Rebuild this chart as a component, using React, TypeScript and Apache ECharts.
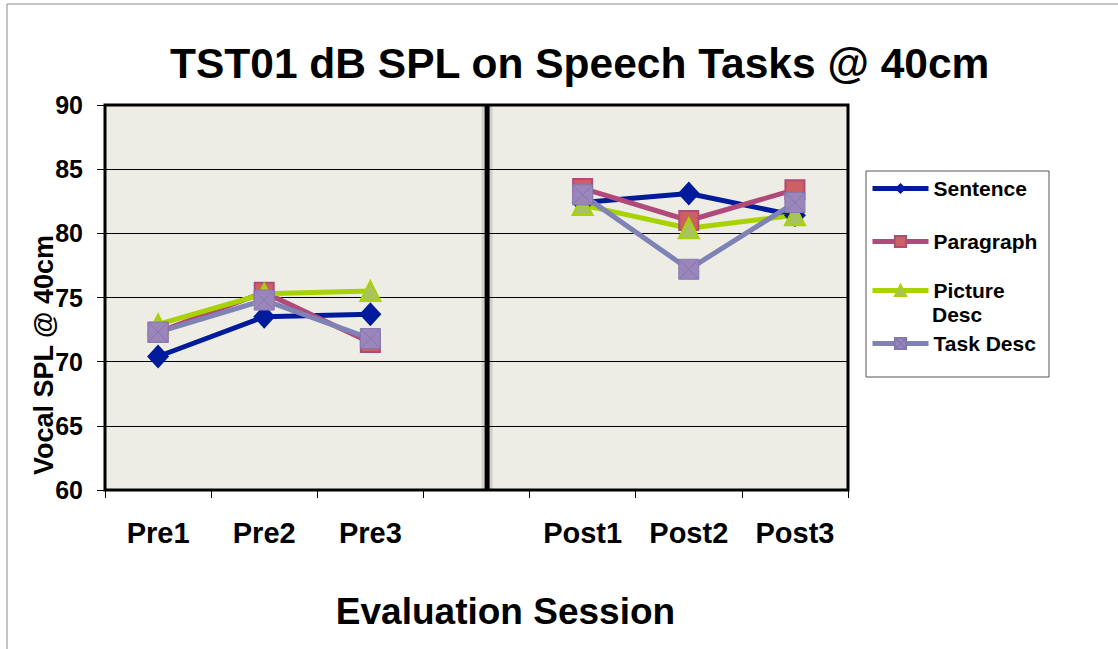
import React, { useEffect, useRef } from "react";
import * as echarts from "echarts";

const categories = ["Pre1", "Pre2", "Pre3", "", "Post1", "Post2", "Post3"];
const sentence = [70.4, 73.5, 73.7, null, 82.4, 83.1, 81.4];
const paragraph = [72.3, 75.4, 71.5, null, 83.5, 81.0, 83.4];
const picture = [72.9, 75.3, 75.5, null, 82.2, 80.4, 81.4];
const taskDesc = [72.3, 74.8, 71.8, null, 83.0, 77.2, 82.4];
const dividerX = [3.6, 3.6];
const dividerY = [60, 90];
const seriesNames = ["Sentence", "Paragraph", "Picture Desc", "Task Desc"];

const FONT = "'Liberation Sans', Arial, Helvetica, sans-serif";
const crossSquare = "path://M0,0H10V10H0Z M0,0L10,10 M10,0L0,10";

export default function App() {
  const ref = useRef<HTMLDivElement>(null);
  useEffect(() => {
    if (!ref.current) return;
    const chart = echarts.init(ref.current, null, { renderer: "svg" });
    const legendCommon = {
      orient: "vertical",
      left: 870,
      itemWidth: 56,
      itemHeight: 14,
      itemGap: 0,
      padding: 0,
      lineStyle: { width: 5 },
      textStyle: { fontFamily: FONT, fontWeight: "bold", fontSize: 21, color: "#000" },
    };
    chart.setOption({
      animation: false,
      backgroundColor: "#fff",
      title: {
        text: "TST01 dB SPL on Speech Tasks @ 40cm",
        left: 170,
        top: 42,
        padding: 0,
        textStyle: { fontFamily: FONT, fontWeight: "bold", fontSize: 42.5, color: "#000" },
      },
      grid: {
        left: 105,
        right: 270,
        top: 105,
        bottom: 159,
        show: true,
        backgroundColor: "#EEEDE5",
        borderColor: "#000",
        borderWidth: 3,
      },
      legend: [
        { ...legendCommon, top: 178, data: [seriesNames[0]] },
        { ...legendCommon, top: 231, data: [seriesNames[1]] },
        { ...legendCommon, top: 280, data: [seriesNames[2]], formatter: () => "Picture" },
        { ...legendCommon, top: 333, data: [seriesNames[3]] },
      ],
      xAxis: [
        {
          type: "category",
          data: categories,
          boundaryGap: true,
          axisLine: { show: false },
          axisTick: { show: true, length: 8, lineStyle: { color: "#000", width: 1 } },
          axisLabel: { margin: 28, fontFamily: FONT, fontWeight: "bold", fontSize: 29, color: "#000", interval: 0 },
          splitLine: { show: false },
          name: "Evaluation Session",
          nameLocation: "middle",
          nameGap: 103,
          nameTextStyle: { fontFamily: FONT, fontWeight: "bold", fontSize: 37, color: "#000", padding: [0, 0, 0, 58] },
        },
        { type: "value", min: 0, max: 7, show: false },
      ],
      yAxis: {
        type: "value",
        min: 60,
        max: 90,
        interval: 5,
        axisLine: { show: false },
        axisTick: { show: true, length: 8, lineStyle: { color: "#000", width: 1 } },
        axisLabel: { margin: 22, fontFamily: FONT, fontWeight: "bold", fontSize: 25, color: "#000" },
        splitLine: { show: true, lineStyle: { color: "#000", width: 1 } },
      },
      graphic: [
        {
          type: "rect",
          shape: { x: 7, y: 4, width: 1200, height: 700 },
          style: { fill: "none", stroke: "#888", lineWidth: 1 },
          silent: true,
        },
        {
          type: "rect",
          shape: { x: 866, y: 171, width: 183, height: 206 },
          style: { fill: "none", stroke: "#555", lineWidth: 1 },
          silent: true,
        },
        {
          type: "text",
          x: 932,
          y: 314,
          style: {
            text: "Desc",
            fontFamily: FONT,
            fontWeight: "bold",
            fontSize: 21,
            fill: "#000",
            textAlign: "left",
            textVerticalAlign: "middle",
          },
        },
        {
          type: "text",
          x: 44,
          y: 355,
          rotation: Math.PI / 2,
          style: {
            text: "Vocal SPL @ 40cm",
            fontFamily: FONT,
            fontWeight: "bold",
            fontSize: 27,
            fill: "#000",
            textAlign: "center",
            textVerticalAlign: "middle",
          },
        },
      ],
      series: [
        {
          name: "divider-shade",
          type: "line",
          xAxisIndex: 1,
          data: dividerX.map((x, i) => [x, dividerY[i]]),
          symbol: "none",
          silent: true,
          z: 1,
          lineStyle: { color: "rgba(0,0,0,0.12)", width: 11 },
        },
        {
          name: "divider",
          type: "line",
          xAxisIndex: 1,
          data: dividerX.map((x, i) => [x, dividerY[i]]),
          symbol: "none",
          silent: true,
          z: 1,
          lineStyle: { color: "#000", width: 5 },
        },
        {
          name: seriesNames[0],
          type: "line",
          data: sentence,
          symbol: "diamond",
          symbolSize: [22, 24],
          lineStyle: { color: "#001A9C", width: 5 },
          itemStyle: { color: "#001A9C" },
        },
        {
          name: seriesNames[1],
          type: "line",
          data: paragraph,
          symbol: "rect",
          symbolSize: 19,
          lineStyle: { color: "#B04A7A", width: 5 },
          itemStyle: { color: "#CD6060", borderColor: "#B04A7A", borderWidth: 2 },
        },
        {
          name: seriesNames[2],
          type: "line",
          data: picture,
          symbol: "triangle",
          symbolSize: 20,
          lineStyle: { color: "#A8D200", width: 5 },
          itemStyle: { color: "#A8C25E", borderColor: "#A8D200", borderWidth: 2 },
        },
        {
          name: seriesNames[3],
          type: "line",
          data: taskDesc,
          symbol: crossSquare,
          symbolSize: 20,
          lineStyle: { color: "#7E82B4", width: 5 },
          itemStyle: { color: "#9B86BC", borderColor: "#8478AE", borderWidth: 1 },
        },
      ],
    });
    return () => chart.dispose();
  }, []);
  return (
    <div
      ref={ref}
      style={{ position: "absolute", left: 0, top: 0, width: 1118, height: 649 }}
    />
  );
}
